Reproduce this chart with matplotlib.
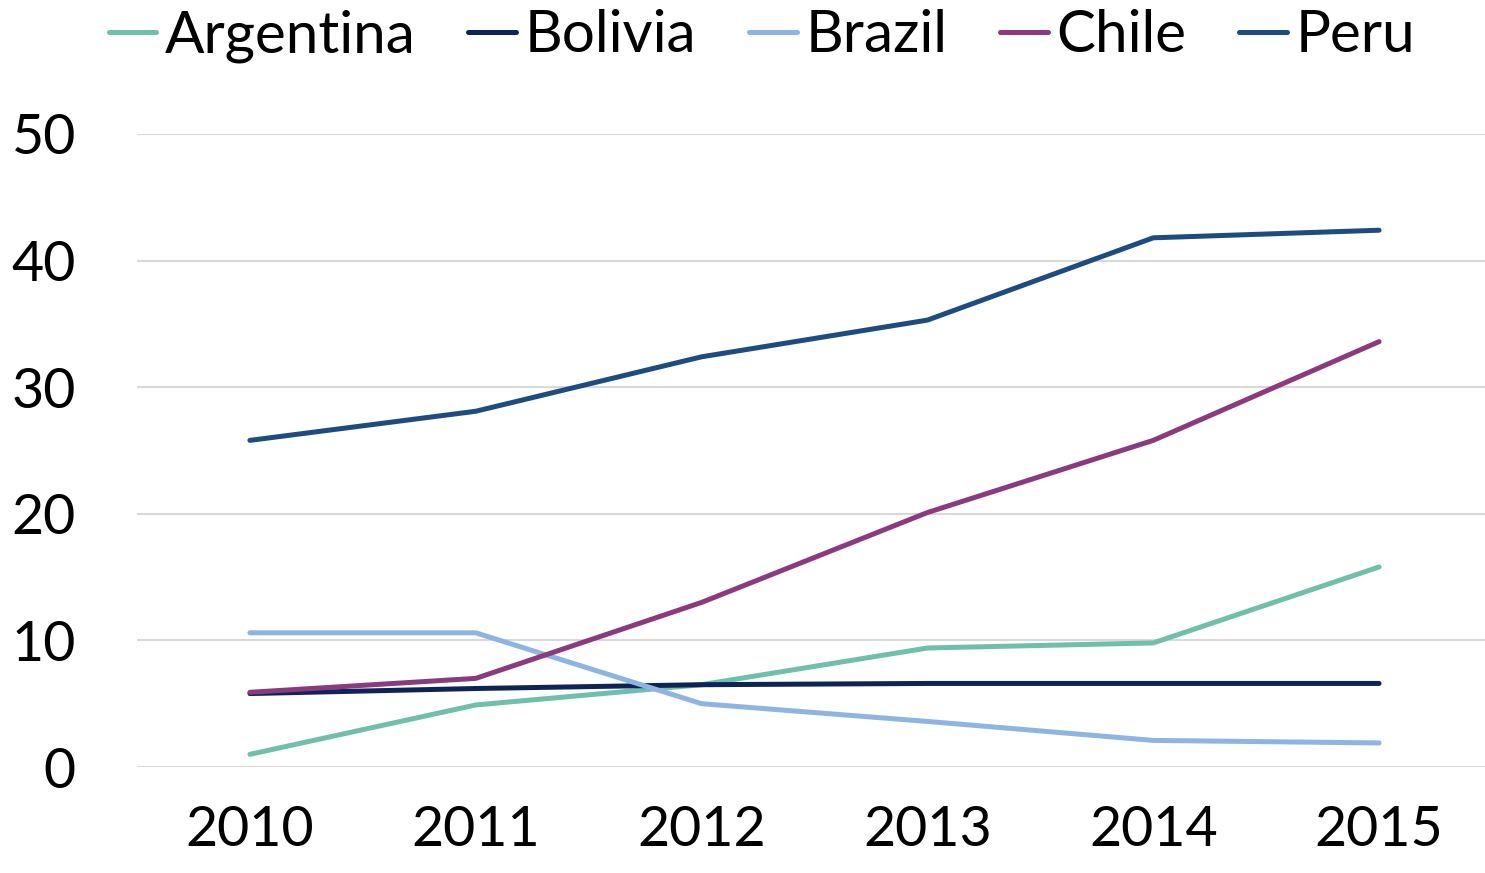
import matplotlib.pyplot as plt
import numpy as np

# Values
years = ['2010', '2011', '2012', '2013', '2014', '2015']
argentina = [1.0, 4.9, 6.5, 9.4, 9.8, 15.8]
bolivia = [5.8, 6.2, 6.5, 6.6, 6.6, 6.6]
brazil = [10.6, 10.6, 5.0, 3.6, 2.1, 1.9]
chile = [5.9, 7.0, 13.0, 20.1, 25.8, 33.6]
peru = [25.8, 28.1, 32.4, 35.3, 41.8, 42.4]

series = [
    ('Argentina', argentina, '#70BFAA'),
    ('Bolivia', bolivia, '#0E2458'),
    ('Brazil', brazil, '#8DB4E3'),
    ('Chile', chile, '#8B3A7E'),
    ('Peru', peru, '#1D4C80'),
]

plt.rcParams['font.family'] = ['Lato', 'DejaVu Sans']

fig = plt.figure(figsize=(14.85, 8.73), dpi=100)
# axes runs slightly past the right edge so the category spacing matches
ax = fig.add_axes([137 / 1485, 1 - 767 / 873, 1355 / 1485, (767 - 134) / 873])

x = np.arange(len(years))
for name, vals, col in series:
    ax.plot(x, vals, color=col, linewidth=3.6, solid_capstyle='round', label=name)

ax.set_xlim(-0.5, len(years) - 0.5)
ax.set_ylim(0, 50)
ax.set_yticks(range(0, 51, 10))
ax.set_xticks(x)
ax.set_xticklabels(years)
ax.yaxis.grid(True, color='#D9D9D9', linewidth=1.5)
ax.set_axisbelow(True)
for s in ax.spines.values():
    s.set_visible(False)
ax.tick_params(axis='both', length=0, labelsize=40, colors='black')
ax.tick_params(axis='y', pad=44)
ax.tick_params(axis='x', pad=27)

fig.legend(loc='center', bbox_to_anchor=(762 / 1485, 1 - 36 / 873), ncol=5,
           frameon=False, fontsize=42, handlelength=0.82, handletextpad=0.15,
           columnspacing=0.9, borderaxespad=0, borderpad=0)

fig.savefig('out.png', dpi=100)
